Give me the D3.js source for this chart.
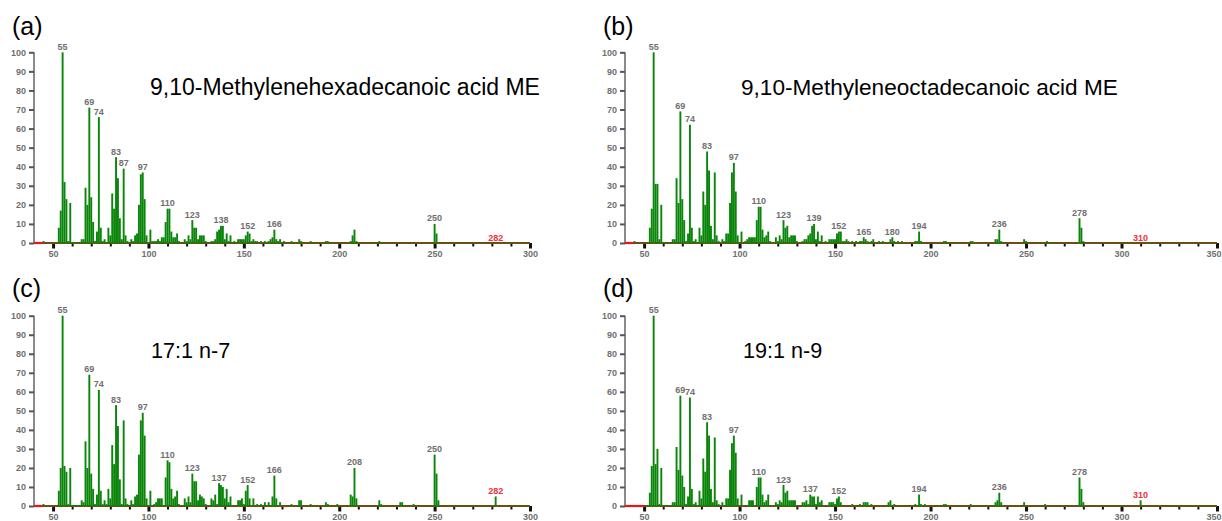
<!DOCTYPE html>
<html>
<head>
<meta charset="utf-8">
<script src="https://cdn.jsdelivr.net/npm/d3@7/dist/d3.min.js"></script>
<style>
  html, body { margin: 0; padding: 0; background: #fff; }
  svg { display: block; }
  text { font-family: Arial, "Liberation Sans", sans-serif; }
</style>
</head>
<body>
<svg id="chart" width="1222" height="521"></svg>
<script>
// EI mass spectra (relative abundance vs m/z) of four fatty acid methyl esters

const panelTags = ["(a)", "(b)", "(c)", "(d)"];
const compoundNames = [
  "9,10-Methylenehexadecanoic acid ME",
  "9,10-Methyleneoctadecanoic acid ME",
  "17:1 n-7",
  "19:1 n-9"
];
const mzMax = [300, 350, 300, 350];
const molecularIon = [282, 310, 282, 310];
const yTicks = [0, 10, 20, 30, 40, 50, 60, 70, 80, 90, 100];

// [m/z, relative abundance %]
const spectrumA = [
  [45,1],[53,8],[54,17],[55,100],[56,32],[57,23],[58,1],[59,21],[60,0.5],[61,0.5],[62,0.5],[63,0.5],
  [65,2],[66,2],[67,29],[68,20],[69,71],[70,24],[71,11],[72,1],[73,6],[74,66],[75,8],[76,1],[77,2],
  [78,0.5],[79,8],[80,4],[81,26],[82,18],[83,45],[84,34],[85,13],[86,2],[87,39],[88,4],[89,1],[90,0.5],
  [91,2],[92,1],[93,4],[94,5],[95,20],[96,36],[97,37],[98,23],[99,4],[100,0.5],[101,7],[102,1],[103,1],
  [104,1],[105,2],[106,1],[107,3],[108,3],[109,11],[110,18],[111,18],[112,6],[113,3],[114,3],[115,5],
  [116,1],[117,0.5],[119,2],[120,1],[121,4],[122,2],[123,12],[124,8],[125,8],[126,2],[127,4],[128,4],
  [129,4],[130,1],[131,0.5],[133,1],[134,1],[135,2],[136,6],[137,7],[138,9],[139,9],[140,2],[141,5],
  [142,1],[143,4],[145,1],[147,2],[148,2],[149,2],[150,2],[151,4],[152,6],[153,5],[154,1],[155,2],
  [156,1],[157,1],[159,1],[161,1],[163,1],[164,2],[165,3],[166,7],[167,2],[168,1],[169,2],[171,1],
  [175,1],[179,2],[180,1],[185,1],[193,1],[194,1],[206,1],[207,4],[208,7],[209,1],[221,1],[222,0.5],
  [250,10],[251,5]
];
const spectrumB = [
  [45,1],[53,8],[54,18],[55,100],[56,31],[57,31],[58,2],[59,20],[60,0.5],[61,0.5],[63,0.5],[65,2],
  [66,2],[67,34],[68,21],[69,69],[70,23],[71,12],[72,1],[73,5],[74,62],[75,8],[76,1],[77,2],[78,0.5],
  [79,8],[80,4],[81,27],[82,20],[83,48],[84,38],[85,9],[86,2],[87,37],[88,4],[89,1],[91,2],[92,1],
  [93,5],[94,5],[95,21],[96,37],[97,42],[98,27],[99,4],[100,0.5],[101,6],[103,1],[104,2],[105,3],
  [106,3],[107,3],[108,3],[109,12],[110,19],[111,19],[112,7],[113,3],[114,4],[115,6],[116,1],[119,3],
  [120,1],[121,4],[122,2],[123,12],[124,8],[125,9],[126,3],[127,4],[128,4],[129,4],[130,1],[133,1],
  [134,2],[135,2],[136,4],[137,5],[138,9],[139,10],[140,2],[141,6],[142,1],[143,4],[145,1],[147,2],
  [148,2],[149,2],[150,2],[151,5],[152,6],[153,6],[154,1],[155,1],[156,2],[157,1],[159,1],[161,1],
  [163,1],[164,1],[165,3],[166,2],[167,1],[169,1],[170,2],[173,1],[175,1],[179,2],[180,3],[181,1],
  [183,1],[185,1],[192,1],[193,1],[194,6],[195,1],[207,1],[208,1],[221,1],[222,1],[234,2],[235,2],
  [236,7],[237,1],[249,2],[250,1],[261,1],[278,13],[279,8],[280,1]
];
const spectrumC = [
  [45,1],[53,8],[54,20],[55,100],[56,21],[57,18],[58,1],[59,20],[60,0.5],[61,0.5],[62,0.5],[63,0.5],
  [65,3],[66,2],[67,34],[68,20],[69,69],[70,17],[71,9],[72,1],[73,6],[74,61],[75,8],[76,1],[77,3],
  [78,1],[79,9],[80,4],[81,32],[82,22],[83,53],[84,42],[85,14],[86,1],[87,45],[88,4],[89,1],[91,3],
  [92,1],[93,5],[94,6],[95,27],[96,45],[97,49],[98,37],[99,4],[101,8],[103,1],[104,2],[105,4],[106,4],
  [107,4],[109,15],[110,24],[111,23],[112,9],[113,4],[114,5],[115,8],[116,1],[119,4],[120,2],[121,5],
  [122,2],[123,17],[124,13],[125,13],[126,3],[127,6],[128,5],[129,4],[130,1],[133,4],[134,3],[135,6],
  [136,1],[137,12],[138,11],[139,10],[140,4],[141,9],[142,2],[143,5],[147,3],[148,3],[149,4],[150,1],
  [151,8],[152,11],[153,4],[155,4],[157,1],[159,1],[161,2],[163,2],[165,5],[166,16],[167,4],[169,2],
  [175,1],[179,3],[180,3],[185,1],[193,2],[194,1],[199,1],[206,6],[207,5],[208,20],[209,4],[221,3],
  [222,1],[232,2],[233,2],[239,1],[250,27],[251,17],[252,3],[282,5]
];
const spectrumD = [
  [53,7],[54,21],[55,100],[56,22],[57,30],[58,1],[59,20],[61,0.5],[63,0.5],[65,2],[66,2],[67,31],
  [68,19],[69,58],[70,16],[71,10],[72,1],[73,5],[74,57],[75,9],[76,1],[77,2],[79,8],[80,4],[81,25],
  [82,18],[83,44],[84,37],[85,9],[86,2],[87,36],[88,3],[89,1],[91,2],[93,4],[94,4],[95,19],[96,33],
  [97,37],[98,28],[99,4],[101,6],[105,3],[106,3],[107,3],[109,10],[110,15],[111,15],[112,6],[113,2],
  [114,3],[115,6],[119,2],[120,1],[121,3],[122,2],[123,11],[124,7],[125,8],[126,3],[127,3],[128,3],
  [129,3],[133,2],[134,2],[135,3],[136,1],[137,6],[138,5],[139,5],[140,1],[141,5],[142,2],[143,3],
  [147,2],[148,2],[149,2],[150,1],[151,4],[152,5],[153,2],[159,1],[163,1],[165,2],[166,2],[167,2],
  [169,1],[178,2],[179,3],[181,1],[192,1],[194,6],[195,1],[197,1],[207,1],[208,1],[221,1],[234,2],
  [235,3],[236,7],[237,2],[249,2],[260,1],[278,15],[279,9],[280,2],[310,3]
];
const spectra = [spectrumA, spectrumB, spectrumC, spectrumD];

// m/z values that carry a label above their peak
const labelsA = [55, 69, 74, 83, 87, 97, 110, 123, 138, 152, 166, 250];
const labelsB = [55, 69, 74, 83, 97, 110, 123, 139, 152, 165, 180, 194, 236, 278];
const labelsC = [55, 69, 74, 83, 97, 110, 123, 137, 152, 166, 208, 250];
const labelsD = [55, 69, 74, 83, 97, 110, 123, 137, 152, 194, 236, 278];
const peakLabels = [labelsA, labelsB, labelsC, labelsD];

// scan range start (drawn red on the axis)
const scanStart = [45, 45, 45, 50];

const layout = [
  { x0: 34,  x1: 530,  yTop: 52.3,  yBot: 243, tagX: 12,  tagY: 35,  nameX: 150, nameY: 95,  nameSize: 23 },
  { x0: 625, x1: 1217, yTop: 52.3,  yBot: 243, tagX: 603, tagY: 35,  nameX: 741, nameY: 95,  nameSize: 22.6 },
  { x0: 34,  x1: 530,  yTop: 315.7, yBot: 506, tagX: 12,  tagY: 297, nameX: 151, nameY: 358, nameSize: 21.6 },
  { x0: 625, x1: 1217, yTop: 315.7, yBot: 506, tagX: 603, tagY: 297, nameX: 743, nameY: 358, nameSize: 21.6 }
];

const svg = d3.select("#chart");
const green = "#098609";
const gray = "#707070";
const fontStack = "Arial, 'Liberation Sans', sans-serif";

layout.forEach((L, i) => {
  const g = svg.append("g");
  const x = d3.scaleLinear().domain([40, mzMax[i]]).range([L.x0, L.x1]);
  const y = d3.scaleLinear().domain([0, 100]).range([L.yBot, L.yTop]);
  const data = spectra[i];
  const lookup = new Map(data);

  // panel tag and compound name
  g.append("text").attr("x", L.tagX).attr("y", L.tagY)
    .attr("font-size", 25).attr("fill", "#000").text(panelTags[i]);
  g.append("text").attr("x", L.nameX).attr("y", L.nameY)
    .attr("font-size", L.nameSize).attr("fill", "#000").text(compoundNames[i]);

  // y axis
  const yAxis = d3.axisLeft(y).tickValues(yTicks).tickSize(5).tickPadding(3);
  const ya = g.append("g").attr("transform", `translate(${L.x0},0)`).call(yAxis);
  ya.select(".domain").attr("stroke", "#8a8a8a").attr("stroke-width", 2)
    .attr("d", `M0,${L.yBot}V${L.yTop}`);
  ya.selectAll(".tick line").attr("stroke", "#555").attr("stroke-width", 2);
  ya.selectAll(".tick text").attr("fill", gray).attr("font-size", 9)
    .attr("font-weight", "bold").attr("font-family", fontStack);

  // x axis ticks every 10, labels every 50
  const xt = d3.range(50, mzMax[i] + 1, 10);
  const xAxis = d3.axisBottom(x).tickValues(xt).tickSize(0).tickPadding(8)
    .tickFormat(d => d % 50 === 0 ? d : "");
  const xa = g.append("g").attr("transform", `translate(0,${L.yBot})`).call(xAxis);
  xa.select(".domain").remove();
  xa.selectAll(".tick text").attr("fill", gray).attr("font-size", 9)
    .attr("font-weight", "bold").attr("font-family", fontStack)
    .attr("text-anchor", d => d === 350 ? "end" : "middle")
    .attr("dx", d => d === 350 ? 4 : 0);
  xa.selectAll(".tick").append("rect")
    .attr("x", d => d % 50 === 0 ? -1.5 : -1)
    .attr("y", 0)
    .attr("width", d => d % 50 === 0 ? 3 : 2)
    .attr("height", d => d % 50 === 0 ? 5.5 : 3.5)
    .attr("fill", "#111");

  // baseline
  g.append("line").attr("x1", L.x0).attr("x2", L.x1)
    .attr("y1", L.yBot).attr("y2", L.yBot)
    .attr("stroke", "#6a4e14").attr("stroke-width", 2.2);
  g.append("line").attr("x1", L.x0).attr("x2", x(scanStart[i]))
    .attr("y1", L.yBot).attr("y2", L.yBot)
    .attr("stroke", "#e8161b").attr("stroke-width", 2.2);

  // spectrum bars
  const w = x(1) - x(0);
  g.append("g").selectAll("rect").data(data).join("rect")
    .attr("x", d => x(d[0]) - w / 2)
    .attr("width", w)
    .attr("y", d => y(d[1]))
    .attr("height", d => L.yBot - y(d[1]))
    .attr("fill", green);

  // peak labels
  g.append("g").selectAll("text").data(peakLabels[i]).join("text")
    .attr("x", d => x(d))
    .attr("y", d => y(lookup.get(d) || 0) - 2.5)
    .attr("text-anchor", "middle")
    .attr("font-size", 9).attr("font-weight", "bold")
    .attr("fill", gray)
    .text(d => d);

  // molecular ion label
  const m = molecularIon[i];
  g.append("text")
    .attr("x", x(m))
    .attr("y", y(lookup.get(m) || 0) - 2.5)
    .attr("text-anchor", "middle")
    .attr("font-size", 9).attr("font-weight", "bold")
    .attr("fill", "#f0303a")
    .text(m);
});
</script>
</body>
</html>
